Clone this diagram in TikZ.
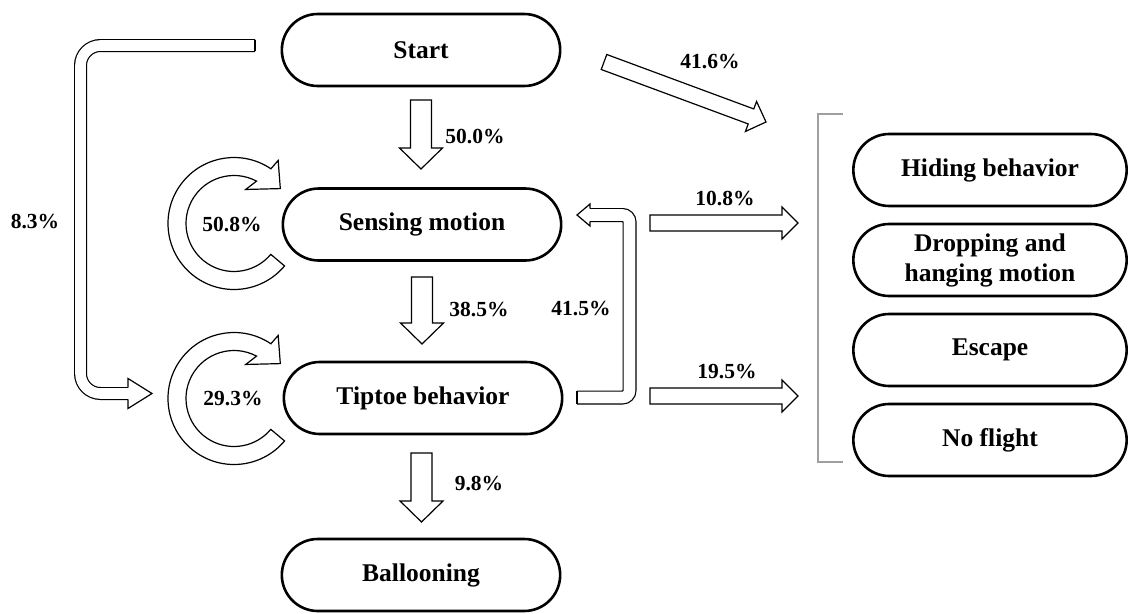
\documentclass[tikz,border=0pt]{standalone}
\usepackage{fontspec}
\setmainfont{Liberation Serif}
\usetikzlibrary{calc, shapes.misc}
\tikzset{
  stage/.style={rounded rectangle, draw, line width=2.6pt, minimum width=285, minimum height=72,
                align=center, font=\fontsize{25.5}{30}\selectfont\bfseries},
  pct/.style={font=\fontsize{21.5}{24}\selectfont\bfseries, inner sep=0pt},
  outline/.style={draw, fill=white, line width=1.2pt, line join=miter},
  block/.style n args={3}{outline, to path={
      ($(\tikztostart)!#1!90:(\tikztotarget)$) --
      ($(\tikztotarget)!#3!(\tikztostart)!#1!-90:(\tikztostart)$) --
      ($(\tikztotarget)!#3!(\tikztostart)!#2!-90:(\tikztostart)$) --
      (\tikztotarget) --
      ($(\tikztotarget)!#3!(\tikztostart)!#2!90:(\tikztostart)$) --
      ($(\tikztotarget)!#3!(\tikztostart)!#1!90:(\tikztostart)$) --
      ($(\tikztostart)!#1!-90:(\tikztotarget)$) -- cycle}},
  downflow/.style={block={10.5pt}{21.5pt}{21pt}},
  sideflow/.style={block={8pt}{16pt}{16pt}},
  bentshaft/.style={double=white, double distance=#1, line width=1.2pt},
  bendhead/.style 2 args={outline, to path={
      ($(\tikztostart)!#1!90:(\tikztotarget)$) -- ($(\tikztostart)!#2!90:(\tikztotarget)$) --
      (\tikztotarget) --
      ($(\tikztostart)!#2!-90:(\tikztotarget)$) -- ($(\tikztostart)!#1!-90:(\tikztotarget)$)}},
  bracket/.style={draw=gray!75, line width=1.4pt},
}
\newcommand{\selfloop}[1]{%
  \draw[outline] (#1) ++(40:66) arc[start angle=40, end angle=304, radius=66]
    -- ($(#1)+(305:77)$) -- ($(#1)+(323:58)$) -- ($(#1)+(289:36)$)
    -- ($(#1)+(298:48)$) arc[start angle=298, end angle=40, radius=48] -- cycle;%
}

\begin{document}
\begin{tikzpicture}[x=1pt, y=-1pt]
  \useasboundingbox (0,0) rectangle (1132,613);
  % stages
  \node[stage] (start)   at (421,50)  {Start};
  \node[stage] (sense)   at (422,224.5) {Sensing motion};
  \node[stage] (tiptoe)  at (423,398) {Tiptoe behavior};
  \node[stage] (balloon) at (421,575) {Ballooning};
  \node[stage, minimum width=280] (hide)     at (990,170) {Hiding behavior};
  \node[stage, minimum width=280] (drop)     at (990,260) {Dropping and\\hanging motion};
  \node[stage, minimum width=280] (escape)   at (990,350) {Escape};
  \node[stage, minimum width=280] (noflight) at (990,440) {No flight};
  \draw[bracket] (843,114) -- (818,114) -- (818,462) -- (843,462);

  % straight flows
  \coordinate (s50)  at (421,100);   \coordinate (e50)  at (421,169);
  \coordinate (s385) at (422,277);   \coordinate (e385) at (422,344);
  \coordinate (s98)  at (421.5,453); \coordinate (e98)  at (421.5,522);
  \coordinate (s108) at (650,223);   \coordinate (e108) at (798,223);
  \coordinate (s195) at (650,396);   \coordinate (e195) at (798,396);
  \coordinate (s416) at (604,62);    \coordinate (e416) at (766,122);
  \draw[downflow] (s50) to (e50);
  \draw[downflow] (s385) to (e385);
  \draw[downflow] (s98) to (e98);
  \draw[sideflow] (s108) to (e108);
  \draw[sideflow] (s195) to (e195);
  \draw[sideflow] (s416) to (e416);
  \node[pct] (p50)  at (475,137) {50.0\%};
  \node[pct] (p385) at (479,309) {38.5\%};
  \node[pct] (p98)  at (479,483) {9.8\%};
  \node[pct] (p108) at (725,198) {10.8\%};
  \node[pct] (p195) at (727,371) {19.5\%};
  \node[pct] (p416) at (710,62)  {41.6\%};

  % bent flows
  \coordinate (t83) at (255,45.5);  \coordinate (k83) at (80.5,45.5);
  \coordinate (b83) at (128,393.5); \coordinate (e83) at (152,393.5);
  \draw[bentshaft=10.6pt, rounded corners=20pt] (t83) -- (k83) |- (b83);
  \draw[line width=1.2pt, line cap=square] ($(t83)+(0,-5.9)$) -- ($(t83)+(0,5.9)$);
  \draw[bendhead={5.9pt}{15pt}] (b83) to (e83);
  \node[pct] (p83) at (35,222) {8.3\%};

  \coordinate (t415) at (577,397.5); \coordinate (k415) at (629.5,215);
  \coordinate (b415) at (590,215);   \coordinate (e415) at (577,215);
  \draw[bentshaft=11.6pt, rounded corners=7pt] (t415) -| (k415) -- (b415);
  \draw[line width=1.2pt, line cap=square] ($(t415)+(0,-6.4)$) -- ($(t415)+(0,6.4)$);
  \draw[bendhead={6.4pt}{11pt}] (b415) to (e415);
  \node[pct] (p415) at (581,308) {41.5\%};

  % self loops
  \coordinate (c508) at (234,223.5);
  \coordinate (c293) at (234,398.5);
  \selfloop{c508}
  \selfloop{c293}
  \node[pct] (p508) at (232,224) {50.8\%};
  \node[pct] (p293) at (233,398) {29.3\%};
\end{tikzpicture}
\end{document}
